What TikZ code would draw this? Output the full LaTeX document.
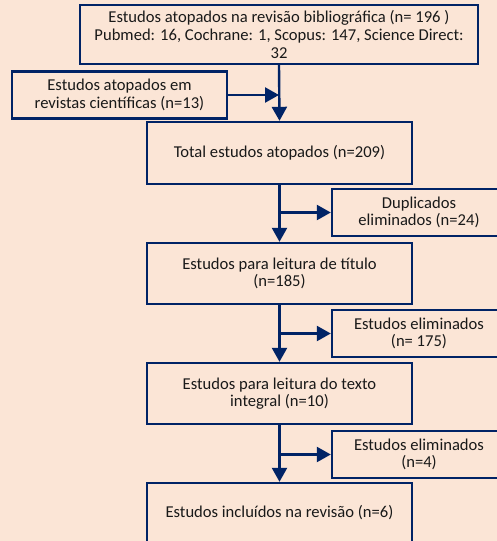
\documentclass[tikz,border=0pt]{standalone}
\usepackage{fontspec}
\setmainfont{Carlito}
\usetikzlibrary{arrows.meta}
\definecolor{bg}{HTML}{FBE5D6}
\definecolor{navy}{HTML}{002366}
\begin{document}
\begin{tikzpicture}[x=1pt,y=-1pt,
  box/.style={draw=navy,fill=bg,line width=2.4pt,rectangle,inner sep=0pt,align=center,
    font=\fontsize{16.6}{17.6}\selectfont,text=black!90},
  conn/.style={draw=navy,line width=2.4pt,-{Triangle[length=14pt,width=15pt]}}]
\useasboundingbox (0,0) rectangle (497,541);
\clip (0,0) rectangle (497,541);
\fill[bg] (0,0) rectangle (497,541);
\node[box,minimum width=398pt,minimum height=59pt] (top) at (279,34.5)
  {Estudos atopados na revisão bibliográfica (n= 196 )\\Pubmed: 16, Cochrane: 1, Scopus: 147, Science Direct:\\32};
\node[box,minimum width=215pt,minimum height=47pt] (left) at (119.5,95)
  {Estudos atopados em\\revistas científicas (n=13)};
\node[box,minimum width=265pt,minimum height=62pt] (total) at (279.5,153)
  {Total estudos atopados (n=209)};
\node[box,minimum width=174pt,minimum height=47pt] (dup) at (419,212.5)
  {Duplicados\\eliminados (n=24)};
\node[box,minimum width=265pt,minimum height=61pt] (title) at (279.5,273.5)
  {Estudos para leitura de título\\(n=185)};
\node[box,minimum width=174pt,minimum height=47pt] (el1) at (419,333.5)
  {Estudos eliminados\\(n= 175)};
\node[box,minimum width=265pt,minimum height=61pt] (integ) at (279.5,393.5)
  {Estudos para leitura do texto\\integral (n=10)};
\node[box,minimum width=174pt,minimum height=47pt] (el2) at (419,454.5)
  {Estudos eliminados\\(n=4)};
\node[box,minimum width=265pt,minimum height=60pt] (final) at (279.5,513)
  {Estudos incluídos na revisão (n=6)};
\coordinate (j0) at (top.south |- left.east);
\coordinate (j1) at (total.south |- dup.west);
\coordinate (j2) at (title.south |- el1.west);
\coordinate (j3) at (integ.south |- el2.west);
\draw[conn] (top.south) -- (total.north);
\draw[conn] (left.east) -- (j0);
\draw[conn] (total.south) -- (title.north);
\draw[conn] (j1) -- (dup.west);
\draw[conn] (title.south) -- (integ.north);
\draw[conn] (j2) -- (el1.west);
\draw[conn] (integ.south) -- (final.north);
\draw[conn] (j3) -- (el2.west);
\end{tikzpicture}
\end{document}
